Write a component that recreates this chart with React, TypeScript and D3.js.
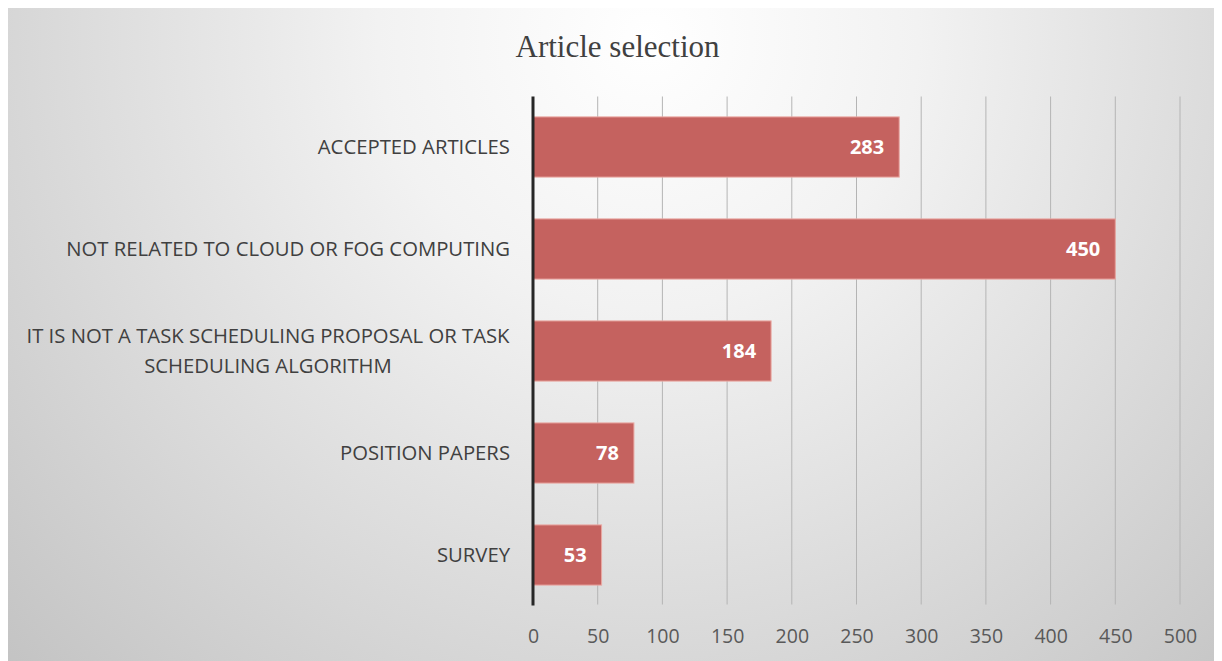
import React, { useEffect, useRef } from 'react';
import * as d3 from 'd3';

const categories = [
  'ACCEPTED ARTICLES',
  'NOT RELATED TO CLOUD OR FOG COMPUTING',
  'IT IS NOT A TASK SCHEDULING PROPOSAL OR TASK|SCHEDULING ALGORITHM',
  'POSITION PAPERS',
  'SURVEY',
];
const counts = [283, 450, 184, 78, 53];
const xTicks = [0, 50, 100, 150, 200, 250, 300, 350, 400, 450, 500];

const W = 1214;
const H = 653;

const App = () => {
  const ref = useRef<SVGSVGElement>(null);

  useEffect(() => {
    const svg = d3.select(ref.current);
    svg.selectAll('*').remove();

    const defs = svg.append('defs');
    const grad = defs.append('radialGradient')
      .attr('id', 'bg')
      .attr('gradientUnits', 'userSpaceOnUse')
      .attr('cx', 640).attr('cy', 30).attr('r', 900);
    grad.append('stop').attr('offset', '0%').attr('stop-color', '#ffffff');
    grad.append('stop').attr('offset', '30%').attr('stop-color', '#f2f2f2');
    grad.append('stop').attr('offset', '100%').attr('stop-color', '#c3c3c3');

    svg.append('rect').attr('width', W).attr('height', H).attr('fill', 'url(#bg)');

    const left = 525, right = 1172, top = 88.5, bottom = 597.5;
    const x = d3.scaleLinear().domain([0, 500]).range([left, right]);
    const y = d3.scaleBand().domain(categories).range([top, bottom]).paddingInner(0.41).paddingOuter(0.2);

    // title
    svg.append('text')
      .attr('x', 609.5).attr('y', 49)
      .attr('text-anchor', 'middle')
      .attr('font-family', '"Liberation Serif", "Times New Roman", serif')
      .attr('font-size', 31)
      .attr('fill', '#404040')
      .text('Article selection');

    // gridlines
    svg.append('g').selectAll('line')
      .data(xTicks.slice(1))
      .enter().append('line')
      .attr('x1', d => x(d)).attr('x2', d => x(d))
      .attr('y1', top).attr('y2', bottom - 1)
      .attr('stroke', '#b4b4b4')
      .attr('stroke-width', 1);

    // bars
    svg.append('g').selectAll('rect')
      .data(counts)
      .enter().append('rect')
      .attr('x', x(0))
      .attr('y', (d, i) => y(categories[i])!)
      .attr('width', d => x(d) - x(0))
      .attr('height', y.bandwidth())
      .attr('fill', '#c5625f')
      .attr('stroke', '#eaa9a3')
      .attr('stroke-width', 1);

    // value labels
    svg.append('g').selectAll('text')
      .data(counts)
      .enter().append('text')
      .attr('x', d => x(d) - 15)
      .attr('y', (d, i) => y(categories[i])! + y.bandwidth() / 2)
      .attr('dy', '0.36em')
      .attr('text-anchor', 'end')
      .attr('font-family', '"Open Sans", sans-serif')
      .attr('font-weight', 'bold')
      .attr('font-size', 20)
      .attr('fill', '#ffffff')
      .text(d => d);

    // category labels
    const cats = svg.append('g');
    categories.forEach(c => {
      const lines = c.split('|');
      const cy = y(c)! + y.bandwidth() / 2;
      const t = cats.append('text')
        .attr('font-family', '"Open Sans", sans-serif')
        .attr('font-size', 20.3)
        .attr('fill', '#404040')
        .attr('text-anchor', lines.length > 1 ? 'middle' : 'end');
      if (lines.length === 1) {
        t.attr('x', 502).attr('y', cy).attr('dy', '0.36em').text(c);
      } else {
        lines.forEach((l, k) => {
          t.append('tspan')
            .attr('x', 260)
            .attr('y', cy + (k - (lines.length - 1) / 2) * 30)
            .attr('dy', '0.36em')
            .text(l);
        });
      }
    });

    // x axis ticks & labels
    const axis = d3.axisBottom(x).tickValues(xTicks).tickSize(0).tickPadding(0);
    const ax = svg.append('g').attr('transform', `translate(0,${bottom})`).call(axis);
    ax.select('.domain').remove();
    ax.selectAll('text')
      .attr('y', 30)
      .attr('dy', '0.36em')
      .attr('font-family', '"Open Sans", sans-serif')
      .attr('font-size', 19.5)
      .attr('fill', '#595959');

    // vertical axis line
    svg.append('line')
      .attr('x1', x(0)).attr('x2', x(0))
      .attr('y1', top).attr('y2', bottom)
      .attr('stroke', '#262626')
      .attr('stroke-width', 3);
  }, []);

  return <svg ref={ref} width={W} height={H} style={{ display: 'block' }} />;
};

export default App;
